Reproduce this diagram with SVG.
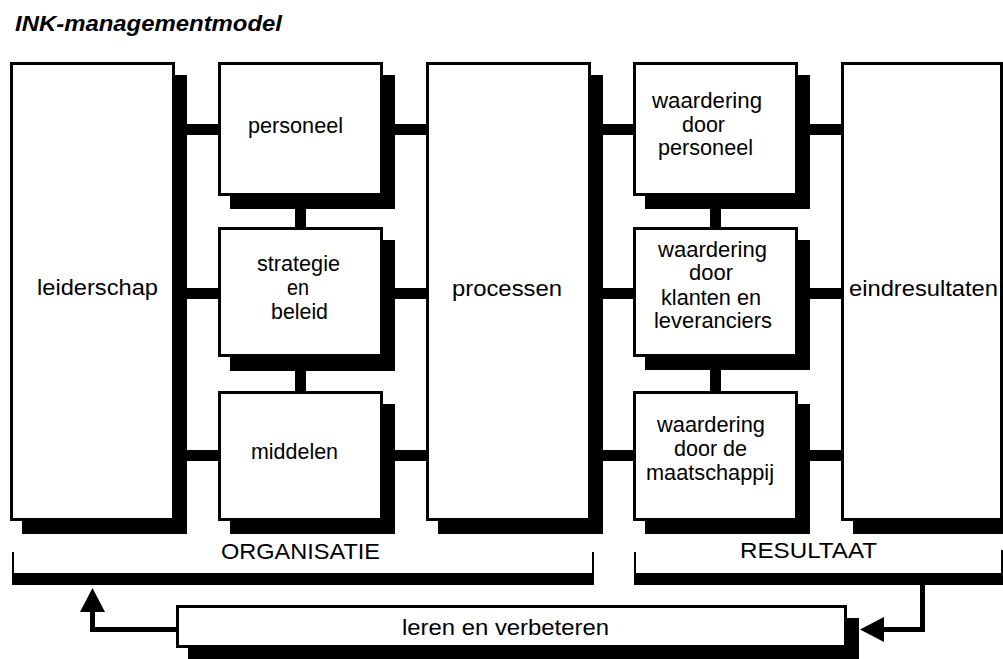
<svg xmlns="http://www.w3.org/2000/svg" width="1003" height="659" viewBox="0 0 1003 659">
<style>
.sh{fill:#000}
.box{fill:#fff;stroke:#000;stroke-width:3}
.bar{fill:#000}
.lbl{font-family:"Liberation Sans",Arial,sans-serif;font-size:22px;fill:#000}
.ttl{font-family:"Liberation Sans",Arial,sans-serif;font-size:22px;font-weight:bold;font-style:italic;fill:#000}
.thin{fill:none;stroke:#000;stroke-width:2}
.fb{fill:none;stroke:#000;stroke-width:5;stroke-linejoin:miter}
</style>
<defs>
<marker id="arrow" markerUnits="userSpaceOnUse" markerWidth="26" markerHeight="26" refX="0" refY="12.5" orient="auto" viewBox="0 0 26 26">
<path d="M0,0 L24,12.5 L0,25 Z" fill="#000"/>
</marker>
</defs>
<rect x="0" y="0" width="1003" height="659" fill="#fff"/>
<text class="ttl" x="15" y="31" textLength="267" lengthAdjust="spacingAndGlyphs">INK-managementmodel</text>

<g id="connectors">
<rect class="bar" x="175" y="124" width="45" height="11"/>
<rect class="bar" x="175" y="288" width="45" height="11"/>
<rect class="bar" x="175" y="450" width="45" height="11"/>
<rect class="bar" x="383" y="124" width="45" height="11"/>
<rect class="bar" x="383" y="288" width="45" height="11"/>
<rect class="bar" x="383" y="450" width="45" height="11"/>
<rect class="bar" x="591" y="124" width="44" height="11"/>
<rect class="bar" x="591" y="288" width="44" height="11"/>
<rect class="bar" x="591" y="450" width="44" height="11"/>
<rect class="bar" x="798" y="124" width="45" height="11"/>
<rect class="bar" x="798" y="288" width="45" height="11"/>
<rect class="bar" x="798" y="450" width="45" height="11"/>
<rect class="bar" x="295" y="196" width="11" height="33"/>
<rect class="bar" x="295" y="357" width="11" height="36"/>
<rect class="bar" x="710" y="196" width="11" height="33"/>
<rect class="bar" x="710" y="357" width="11" height="36"/>
<path class="fb" d="M922.5,585 V629.5 H884" marker-end="url(#arrow)"/>
<path class="fb" d="M178,629.5 H92.5 V612" marker-end="url(#arrow)"/>
</g>

<g id="leiderschap">
<rect class="sh" x="22" y="75" width="165" height="459"/>
<rect class="box" x="11.5" y="63.5" width="162" height="456"/>
<text class="lbl" x="37" y="295" textLength="121" lengthAdjust="spacingAndGlyphs">leiderschap</text>
</g>

<g id="personeel">
<rect class="sh" x="230" y="75" width="165" height="134"/>
<rect class="box" x="219.5" y="63.5" width="162" height="131"/>
<text class="lbl" x="248" y="133" textLength="95" lengthAdjust="spacingAndGlyphs">personeel</text>
</g>

<g id="strategie">
<rect class="sh" x="230" y="240" width="165" height="131"/>
<rect class="box" x="219.5" y="228.5" width="162" height="127"/>
<text class="lbl" x="257" y="271" textLength="83" lengthAdjust="spacingAndGlyphs">strategie</text>
<text class="lbl" x="287" y="295" textLength="22" lengthAdjust="spacingAndGlyphs">en</text>
<text class="lbl" x="271" y="319" textLength="57" lengthAdjust="spacingAndGlyphs">beleid</text>
</g>

<g id="middelen">
<rect class="sh" x="230" y="404" width="165" height="130"/>
<rect class="box" x="219.5" y="392.5" width="162" height="127"/>
<text class="lbl" x="251" y="459" textLength="87" lengthAdjust="spacingAndGlyphs">middelen</text>
</g>

<g id="processen">
<rect class="sh" x="438" y="75" width="165" height="459"/>
<rect class="box" x="427.5" y="63.5" width="162" height="456"/>
<text class="lbl" x="452" y="296" textLength="110" lengthAdjust="spacingAndGlyphs">processen</text>
</g>

<g id="waardering-personeel">
<rect class="sh" x="645" y="75" width="165" height="134"/>
<rect class="box" x="634.5" y="63.5" width="162" height="131"/>
<text class="lbl" x="652" y="108" textLength="110" lengthAdjust="spacingAndGlyphs">waardering</text>
<text class="lbl" x="682" y="132" textLength="43" lengthAdjust="spacingAndGlyphs">door</text>
<text class="lbl" x="658" y="155" textLength="95" lengthAdjust="spacingAndGlyphs">personeel</text>
</g>

<g id="waardering-klanten">
<rect class="sh" x="645" y="240" width="165" height="130"/>
<rect class="box" x="634.5" y="228.5" width="162" height="127"/>
<text class="lbl" x="658" y="257" textLength="109" lengthAdjust="spacingAndGlyphs">waardering</text>
<text class="lbl" x="689" y="280" textLength="44" lengthAdjust="spacingAndGlyphs">door</text>
<text class="lbl" x="661" y="305" textLength="100" lengthAdjust="spacingAndGlyphs">klanten en</text>
<text class="lbl" x="654" y="328" textLength="118" lengthAdjust="spacingAndGlyphs">leveranciers</text>
</g>

<g id="waardering-maatschappij">
<rect class="sh" x="645" y="404" width="165" height="130"/>
<rect class="box" x="634.5" y="392.5" width="162" height="127"/>
<text class="lbl" x="657" y="432" textLength="108" lengthAdjust="spacingAndGlyphs">waardering</text>
<text class="lbl" x="674" y="456" textLength="73" lengthAdjust="spacingAndGlyphs">door de</text>
<text class="lbl" x="646" y="480" textLength="128" lengthAdjust="spacingAndGlyphs">maatschappij</text>
</g>

<g id="eindresultaten">
<rect class="sh" x="853" y="75" width="165" height="459"/>
<rect class="box" x="842.5" y="63.5" width="159" height="456"/>
<text class="lbl" x="849" y="296" textLength="149" lengthAdjust="spacingAndGlyphs">eindresultaten</text>
</g>

<g id="organisatie">
<path class="thin" d="M13,552 V578 H593 V552"/>
<rect class="bar" x="12" y="573" width="582" height="12"/>
<text class="lbl" x="221" y="559" textLength="159" lengthAdjust="spacingAndGlyphs">ORGANISATIE</text>
</g>

<g id="resultaat">
<path class="thin" d="M635,552 V578 H1002 V550"/>
<rect class="bar" x="634" y="573" width="369" height="12"/>
<text class="lbl" x="740" y="558" textLength="137" lengthAdjust="spacingAndGlyphs">RESULTAAT</text>
</g>

<g id="leren">
<rect class="sh" x="188" y="618" width="671" height="43"/>
<rect class="box" x="177.5" y="606.5" width="668" height="40"/>
<text class="lbl" x="402" y="635" textLength="207" lengthAdjust="spacingAndGlyphs">leren en verbeteren</text>
</g>
</svg>
